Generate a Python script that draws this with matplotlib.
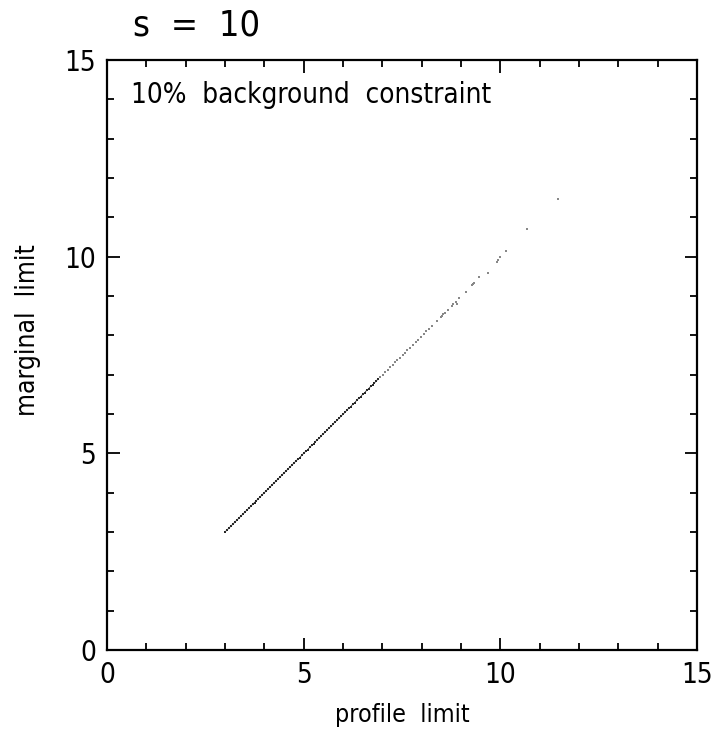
import matplotlib
matplotlib.use("Agg")
import matplotlib.pyplot as plt
from matplotlib.ticker import MultipleLocator

plt.rcParams['font.family'] = ['DejaVu Sans']
plt.rcParams['font.stretch'] = 'condensed'

# dense part of the cloud (reads as a solid line)
profile_dense = [3.00, 3.05, 3.10, 3.15, 3.20, 3.25, 3.30, 3.35, 3.40, 3.45,
                 3.50, 3.55, 3.60, 3.65, 3.70, 3.75, 3.80, 3.85, 3.90, 3.95,
                 4.00, 4.05, 4.10, 4.15, 4.20, 4.25, 4.30, 4.35, 4.40, 4.45,
                 4.50, 4.55, 4.60, 4.65, 4.70, 4.75, 4.80, 4.85, 4.90, 4.95,
                 5.00, 5.05, 5.10, 5.15, 5.20, 5.25, 5.30, 5.35, 5.40, 5.45,
                 5.50, 5.55, 5.60, 5.65, 5.70, 5.75, 5.80, 5.85, 5.90, 5.95,
                 6.00, 6.05, 6.10, 6.15, 6.20, 6.25, 6.30, 6.35, 6.40, 6.45,
                 6.50, 6.55, 6.60, 6.65, 6.70, 6.75, 6.80, 6.85, 6.90]
marginal_dense = [3.00, 3.05, 3.10, 3.15, 3.20, 3.25, 3.30, 3.35, 3.40, 3.45,
                  3.50, 3.55, 3.60, 3.65, 3.70, 3.75, 3.80, 3.85, 3.90, 3.95,
                  4.00, 4.05, 4.10, 4.15, 4.20, 4.25, 4.30, 4.35, 4.40, 4.45,
                  4.50, 4.55, 4.60, 4.65, 4.70, 4.75, 4.80, 4.85, 4.89, 4.95,
                  5.00, 5.05, 5.09, 5.15, 5.20, 5.24, 5.30, 5.35, 5.39, 5.45,
                  5.50, 5.54, 5.60, 5.65, 5.69, 5.75, 5.80, 5.84, 5.90, 5.94,
                  6.00, 6.04, 6.10, 6.15, 6.19, 6.25, 6.29, 6.35, 6.40, 6.44,
                  6.50, 6.54, 6.60, 6.64, 6.70, 6.74, 6.79, 6.85, 6.89]

# sparser upper part
profile_sparse = [6.95, 7.02, 7.08, 7.15, 7.20, 7.27, 7.33, 7.38, 7.45, 7.52,
                  7.58, 7.63, 7.70, 7.78, 7.85, 7.90, 7.98, 8.05, 8.12, 8.19,
                  8.26, 8.39, 8.48, 8.51, 8.55, 8.59, 8.66, 8.76, 8.80, 8.88,
                  8.91, 8.95, 9.13, 9.27, 9.31, 9.34, 9.47, 9.69, 9.91, 9.95,
                  9.99, 10.14, 10.69, 11.47]
marginal_sparse = [6.94, 7.00, 7.07, 7.13, 7.19, 7.25, 7.31, 7.37, 7.43, 7.50,
                   7.56, 7.62, 7.68, 7.76, 7.83, 7.88, 7.96, 8.03, 8.10, 8.17,
                   8.24, 8.37, 8.46, 8.49, 8.54, 8.57, 8.64, 8.75, 8.79, 8.86,
                   8.80, 8.94, 9.10, 9.27, 9.31, 9.34, 9.48, 9.58, 9.86, 9.92,
                   9.98, 10.14, 10.70, 11.46]

fig = plt.figure(figsize=(7.11, 7.31), dpi=100)
ax = fig.add_axes([107/711, 1 - 650/731, 590/711, 590/731])

ax.scatter(profile_dense, marginal_dense, s=1.2, marker='s', color='#222222',
           linewidths=0)
ax.plot(profile_dense, marginal_dense, color='#333333', lw=0.6)
ax.scatter(profile_sparse, marginal_sparse, s=1.2, marker='s', color='#888888',
           linewidths=0)

ax.set_xlim(0, 15)
ax.set_ylim(0, 15)
ax.xaxis.set_major_locator(MultipleLocator(5))
ax.yaxis.set_major_locator(MultipleLocator(5))
ax.xaxis.set_minor_locator(MultipleLocator(1))
ax.yaxis.set_minor_locator(MultipleLocator(1))
ax.tick_params(which='both', direction='in', top=True, right=True, width=1.3,
               labelsize=20, color='black')
ax.tick_params(which='major', length=9, pad=8)
ax.tick_params(which='minor', length=5)
for sp in ax.spines.values():
    sp.set_linewidth(1.6)

fig.text(402/711, 1 - 715/731, 'profile  limit', ha='center', va='center',
         fontsize=18)
fig.text(28/711, 1 - 330/731, 'marginal  limit', ha='center', va='center',
         rotation=90, fontsize=19)
fig.text(133/711, 1 - 26/731, 's  =  10', ha='left', va='center', fontsize=26)
ax.text(0.04, 0.965, '10%  background  constraint', transform=ax.transAxes,
        ha='left', va='top', fontsize=20)

fig.savefig('out.png', dpi=100)
